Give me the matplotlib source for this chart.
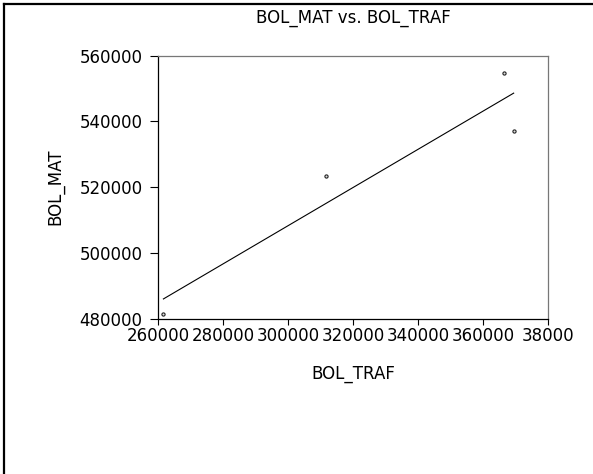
import numpy as np
import matplotlib
matplotlib.use("Agg")
import matplotlib.pyplot as plt
from matplotlib.lines import Line2D

# Data
bol_traf = [261660, 311600, 366280, 369350]
bol_mat = [481340, 523320, 554830, 537000]
x_ticks = [260000, 280000, 300000, 320000, 340000, 360000, 380000]
x_tick_labels = ["260000", "280000", "300000", "320000", "340000", "360000", "38000"]
y_ticks = [480000, 500000, 520000, 540000, 560000]
y_tick_labels = ["480000", "500000", "520000", "540000", "560000"]

plt.rcParams['font.family'] = ['DejaVu Sans']
FS = 12

W, H = 593, 474
fig = plt.figure(figsize=(W / 100, H / 100), dpi=100)
fig.patch.set_facecolor('white')

ax = fig.add_axes([158 / W, 1 - 318.7 / H, 390.3 / W, 263 / H])

x = np.array(bol_traf, dtype=float)
y = np.array(bol_mat, dtype=float)

# Regression line (least squares) over the data range
slope, intercept = np.polyfit(x, y, 1)
xl = np.array([x.min(), x.max()])
ax.plot(xl, slope * xl + intercept, color='black', lw=0.8)

ax.plot(x, y, linestyle='none', marker='o', ms=2.3, mfc='#dddddd',
        mec='#222222', mew=0.8)

ax.set_xlim(260000, 380000)
ax.set_ylim(480000, 560000)
ax.set_xticks(x_ticks)
ax.set_xticklabels(x_tick_labels)
ax.set_yticks(y_ticks)
ax.set_yticklabels(y_tick_labels)

ax.tick_params(axis='both', direction='out', length=4, width=0.8,
               labelsize=FS, colors='black')
ax.tick_params(axis='y', pad=5, length=6)
ax.tick_params(axis='x', pad=2)

ax.spines['left'].set_color('black')
ax.spines['bottom'].set_color('black')
ax.spines['top'].set_color('#777777')
ax.spines['right'].set_color('#777777')
for s in ax.spines.values():
    s.set_linewidth(0.9)

ax.set_ylabel("BOL_MAT", fontsize=FS, va='center')
ax.yaxis.set_label_coords(-0.264, 0.5)
ax.set_xlabel("BOL_TRAF", fontsize=FS, va='center')
ax.xaxis.set_label_coords(0.5, -0.21)
ax.set_title("BOL_MAT vs. BOL_TRAF", fontsize=FS, y=1.113, va='center')

# Frame lines on the left and top of the figure
fig.add_artist(Line2D([4 / W, 4 / W], [0, 1 - 4 / H], transform=fig.transFigure,
                      color='black', lw=1.6))
fig.add_artist(Line2D([4 / W, 1], [1 - 4 / H, 1 - 4 / H], transform=fig.transFigure,
                      color='black', lw=1.6))

fig.savefig("out.png", dpi=100)
